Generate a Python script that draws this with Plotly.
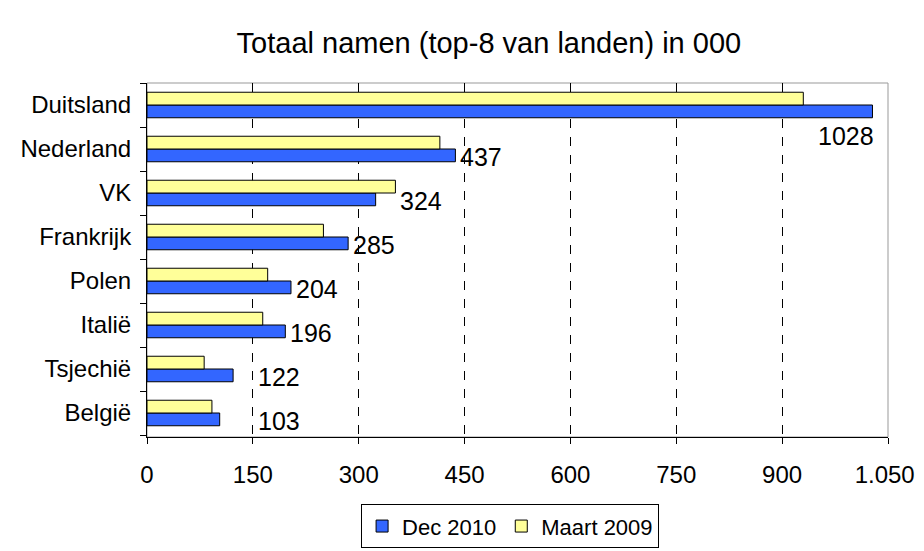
import plotly.graph_objects as go

countries = ["Duitsland", "Nederland", "VK", "Frankrijk", "Polen", "Italië", "Tsjechië", "België"]
dec_2010 = [1028, 437, 324, 285, 204, 196, 122, 103]
maart_2009 = [930, 415, 352, 250, 171, 164, 81, 92]
x_ticks = [0, 150, 300, 450, 600, 750, 900, 1050]
x_tick_text = ["0", "150", "300", "450", "600", "750", "900", "1.050"]

FONT = "Liberation Sans, Arial, sans-serif"
NBSP = "\u00a0"

fig = go.Figure()
fig.add_trace(go.Bar(
    y=countries, x=dec_2010, orientation="h", name="Dec 2010",
    marker=dict(color="#3366FF", line=dict(color="black", width=1)),
))
fig.add_trace(go.Bar(
    y=countries, x=maart_2009, orientation="h", name="Maart 2009",
    marker=dict(color="#FFFF99", line=dict(color="black", width=1)),
))

# data labels for Dec 2010
for i, (c, d, m) in enumerate(zip(countries, dec_2010, maart_2009)):
    if i == 0:
        fig.add_annotation(x=d, y=c, text=str(d), showarrow=False, font=dict(size=25),
                           xanchor="right", yanchor="middle", yshift=-31, xshift=4)
    else:
        fig.add_annotation(x=max(d, m, x_ticks[1]), y=c, text=str(d), showarrow=False,
                           font=dict(size=25),
                           xanchor="left", yanchor="middle", xshift=3, yshift=-8)

# last tick label nudged left so it stays inside the window
tick_text = x_tick_text[:-1] + [x_tick_text[-1] + NBSP]

# the page body adds an 8px offset, so the figure is sized to fit the window
fig.update_layout(
    width=916, height=543,
    paper_bgcolor="white", plot_bgcolor="white",
    font=dict(family=FONT, size=24, color="black"),
    title=dict(text="Totaal namen (top-8 van landen) in 000", x=0.525, xanchor="center",
               y=0.935, yanchor="middle", font=dict(size=29)),
    barmode="group", bargap=0.42, bargroupgap=0,
    margin=dict(l=139, r=36, t=75, b=114, autoexpand=False),
    showlegend=True,
    legend=dict(orientation="h", x=0.49, xanchor="center", y=-0.19, yanchor="top",
                bordercolor="black", borderwidth=1, font=dict(size=22),
                itemwidth=30, tracegroupgap=0),
    xaxis=dict(range=[0, 1050], tickvals=x_ticks, ticktext=tick_text,
               ticklabeloverflow="allow", ticklabelstandoff=10,
               showgrid=True, gridcolor="black", griddash="dash", gridwidth=1,
               showline=True, linecolor="black", linewidth=1,
               ticks="outside", ticklen=6, tickcolor="black", zeroline=False),
    yaxis=dict(categoryorder="array", categoryarray=countries[::-1],
               showline=True, linecolor="black", linewidth=1,
               ticks="outside", ticklen=6, tickcolor="black", tickson="boundaries",
               ticklabelstandoff=10, showgrid=False),
)
fig.add_shape(type="rect", xref="paper", yref="paper", x0=0, x1=1, y0=0, y1=1,
              line=dict(color="#999999", width=1), layer="below")

fig.write_html("out.html")
